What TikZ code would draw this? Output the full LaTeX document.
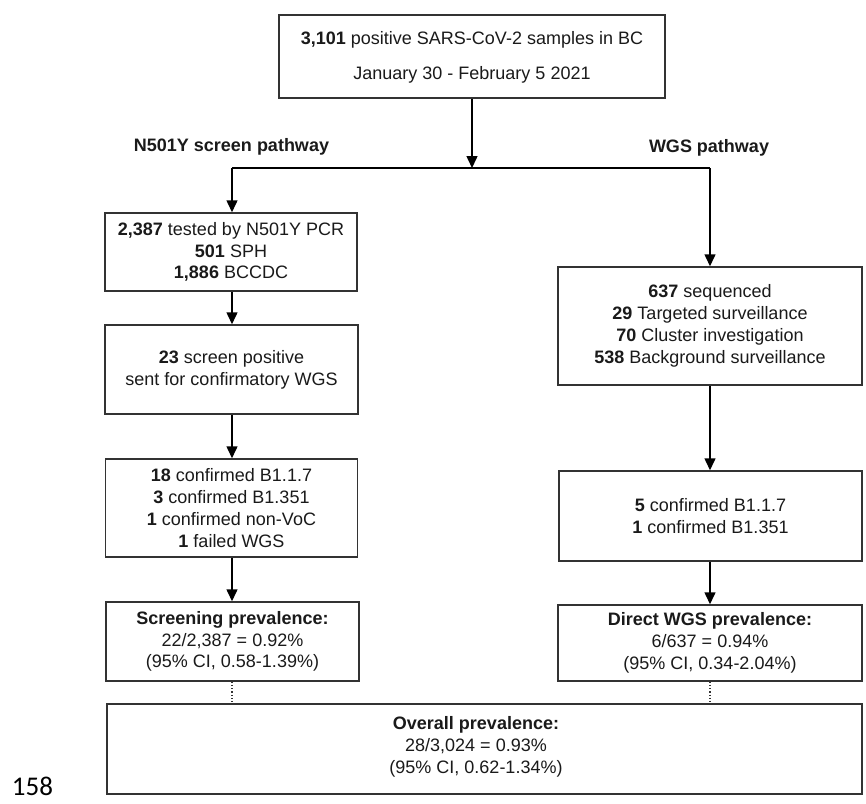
\documentclass[tikz,border=0pt]{standalone}
\usepackage{fontspec}
\setmainfont{Liberation Sans}
\newfontfamily\pgnumfont{Carlito}
\usetikzlibrary{arrows.meta}
\definecolor{boxline}{HTML}{333333}
\definecolor{ink}{HTML}{1A1A1A}
\begin{document}
\begin{tikzpicture}[x=1pt,y=-1pt,
  box/.style={draw=boxline, line width=1.5pt, fill=white, inner sep=0pt, align=center,
    text=ink, font=\fontsize{18}{21.8}\selectfont},
  lbl/.style={inner sep=0pt, text=ink, font=\fontsize{18}{21.8}\selectfont\bfseries},
  txt/.style={inner sep=0pt, align=center, text=ink, font=\fontsize{18}{21.8}\selectfont},
  arr/.style={line width=1.5pt, draw=black, -{Triangle[length=12pt,width=11pt]}},
  conn/.style={line width=1.5pt, draw=black},
  dot/.style={line width=1.2pt, draw=boxline, dotted}]
\useasboundingbox[fill=white] (0,0) rectangle (866,803);

% top box
\node[box, minimum width=386pt, minimum height=83pt] (top) at (472,56.5) {};
\node[txt] (topa) at (472,40) {\textbf{3,101} positive SARS-CoV-2 samples in BC};
\node[txt] (topb) at (472,75) {January 30 - February 5 2021};

% pathway labels
\node[lbl] (lpath) at (231.5,147) {N501Y screen pathway};
\node[lbl] (rpath) at (709,148) {WGS pathway};

% left column
\node[box, minimum width=252pt, minimum height=78pt] (l1) at (231,252)
  {\textbf{2,387} tested by N501Y PCR\\ \textbf{501} SPH\\ \textbf{1,886} BCCDC};
\node[box, minimum width=253pt, minimum height=89pt] (l2) at (231.5,369.5)
  {\textbf{23} screen positive\\ sent for confirmatory WGS};
\node[box, minimum width=252pt, minimum height=98pt] (l3) at (231.5,508)
  {\textbf{18} confirmed B1.1.7\\ \textbf{3} confirmed B1.351\\ \textbf{1} confirmed non-VoC\\ \textbf{1} failed WGS};
\node[box, minimum width=253pt, minimum height=79pt] (l4) at (232.5,641.5)
  {\textbf{Screening prevalence:}\\ 22/2,387 = 0.92\%\\ (95\% CI, 0.58-1.39\%)};

% right column
\node[box, minimum width=304pt, minimum height=118pt] (r1) at (710,326)
  {\textbf{637} sequenced\\ \textbf{29} Targeted surveillance\\ \textbf{70} Cluster investigation\\ \textbf{538} Background surveillance};
\node[box, minimum width=303pt, minimum height=90pt] (r2) at (710.5,516)
  {\textbf{5} confirmed B1.1.7\\ \textbf{1} confirmed B1.351};
\node[box, minimum width=304pt, minimum height=76pt] (r3) at (710,643)
  {\textbf{Direct WGS prevalence:}\\ 6/637 = 0.94\%\\ (95\% CI, 0.34-2.04\%)};

% bottom box
\node[box, minimum width=755pt, minimum height=90pt] (bot) at (484.5,749) {};
\node[txt] (bottxt) at (476,747)
  {\textbf{Overall prevalence:}\\ 28/3,024 = 0.93\%\\ (95\% CI, 0.62-1.34\%)};

% page number
\node[inner sep=0pt, font=\fontsize{27}{30}\selectfont\pgnumfont, text=black] (pg) at (32.5,786) {158};

% connectors
\coordinate (split) at (472,168);
\coordinate (lsplit) at (232,168);
\coordinate (rsplit) at (710,168);
\draw[arr] (top.south -| split) -- (split);
\draw[conn] (lsplit) -- (rsplit);
\draw[arr] (lsplit) -- (lsplit |- l1.north);
\draw[arr] (rsplit) -- (rsplit |- r1.north);
\draw[arr] (l1.south -| lsplit) -- (l2.north -| lsplit);
\draw[arr] (l2.south -| lsplit) -- (l3.north -| lsplit);
\draw[arr] (l3.south -| lsplit) -- (l4.north -| lsplit);
\draw[arr] (r1.south -| rsplit) -- (r2.north -| rsplit);
\draw[arr] (r2.south -| rsplit) -- (r3.north -| rsplit);
\draw[dot] (l4.south -| lsplit) -- (bot.north -| lsplit);
\draw[dot] (r3.south -| rsplit) -- (bot.north -| rsplit);
\end{tikzpicture}
\end{document}
